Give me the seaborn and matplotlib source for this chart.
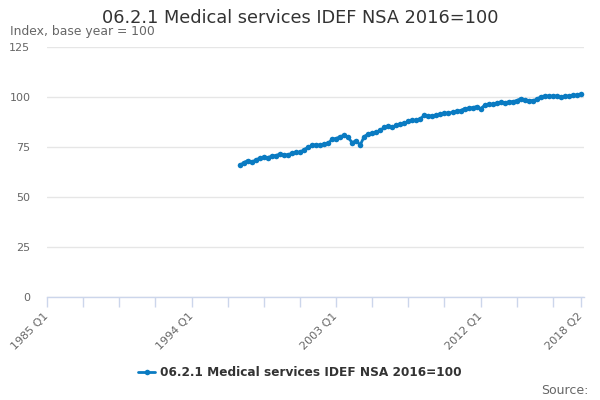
"""
06.2.1 Medical services IDEF NSA 2016=100
Quarterly index, 1985 Q1 - 2018 Q2 (series starts 1997 Q1)
"""

import numpy as np
import pandas as pd
import matplotlib
matplotlib.use("Agg")
import matplotlib.pyplot as plt
import seaborn as sns

sns.set_style("white")
plt.rcParams['font.family'] = ['DejaVu Sans']

LINE_COLOR = '#0a7bc2'
GRID_COLOR = '#e6e6e6'
AXIS_COLOR = '#ccd6eb'
TEXT_GREY = '#666666'

TITLE = '06.2.1 Medical services IDEF NSA 2016=100'
SUBTITLE = 'Index, base year = 100'

# category axis: every quarter 1985 Q1 .. 2018 Q2
first_year, last_year, last_q = 1985, 2018, 2
quarters = [f"{y} Q{q}" for y in range(first_year, last_year + 1) for q in range(1, 5)]
quarters = quarters[:quarters.index(f"{last_year} Q{last_q}") + 1]

start_quarter = '1997 Q1'
index_values = [
    65.8, 67.2, 68.2, 67.5, 68.5, 69.5, 70.0, 69.7,   # 1997-1998
    70.5, 70.7, 71.5, 71.2, 71.0, 72.0, 72.3, 72.3,   # 1999-2000
    73.7, 74.8, 75.8, 76.2, 75.8, 76.5, 76.8, 78.8,   # 2001-2002
    79.2, 80.2, 80.8, 79.8, 77.2, 78.2, 76.0, 80.2,   # 2003-2004
    81.5, 81.8, 82.5, 83.3, 84.8, 85.5, 84.8, 86.0,   # 2005-2006
    86.3, 86.8, 87.8, 88.3, 88.3, 89.2, 90.8, 90.3,   # 2007-2008
    90.7, 90.8, 91.3, 91.8, 92.0, 92.3, 92.8, 93.2,   # 2009-2010
    94.2, 94.3, 94.7, 95.2, 94.2, 95.8, 96.5, 96.3,   # 2011-2012
    96.8, 97.3, 97.2, 97.5, 97.7, 98.2, 99.2, 98.5,   # 2013-2014
    98.2, 98.2, 98.8, 100.2, 100.5, 100.4, 100.4, 100.5,  # 2015-2016
    99.8, 100.3, 100.5, 100.8, 101.0, 101.5,          # 2017-2018 Q2
]

y_ticks = [0, 25, 50, 75, 100, 125]
label_every = 36
tick_every = 9


def main():
    start = quarters.index(start_quarter)
    df = pd.DataFrame({
        'pos': np.arange(start, start + len(index_values)),
        'value': index_values,
    })

    fig = plt.figure(figsize=(6, 4), dpi=100)
    ax = fig.add_axes([47 / 600, 1 - 297 / 400, 537 / 600, 250 / 400])

    sns.lineplot(data=df, x='pos', y='value', ax=ax, color=LINE_COLOR,
                 linewidth=2, marker='o', markersize=4, markeredgewidth=0,
                 label=TITLE, legend=False)

    ax.set_xlim(0, len(quarters) - 1 + 0.75)
    ax.set_ylim(0, 125)
    ax.set_yticks(y_ticks)
    ax.set_yticklabels([str(t) for t in y_ticks], color=TEXT_GREY, fontsize=8)
    ax.yaxis.grid(True, color=GRID_COLOR, linewidth=1)
    ax.set_axisbelow(True)
    ax.tick_params(axis='y', left=False, length=0, pad=12)

    tick_pos = list(range(0, len(quarters), tick_every))
    if tick_pos[-1] != len(quarters) - 1:
        tick_pos.append(len(quarters) - 1)
    labels = [quarters[p] if (p % label_every == 0 or p == len(quarters) - 1) else ''
              for p in tick_pos]
    ax.set_xticks(tick_pos)
    ax.set_xticklabels(labels, rotation=45, ha='right', va='center',
                       rotation_mode='anchor', color=TEXT_GREY, fontsize=8)
    ax.tick_params(axis='x', bottom=True, direction='out', length=7.5,
                   width=1, color=AXIS_COLOR, pad=5)

    for side in ['left', 'right', 'top']:
        ax.spines[side].set_visible(False)
    ax.spines['bottom'].set_color(AXIS_COLOR)
    ax.spines['bottom'].set_linewidth(1)
    ax.set_xlabel('')
    ax.set_ylabel('')

    fig.text(0.5, 1 - 18 / 400, TITLE, ha='center', va='center',
             fontsize=12.75, color='#333333')
    fig.text(10 / 600, 1 - 32 / 400, SUBTITLE, ha='left', va='center',
             fontsize=8.9, color=TEXT_GREY)

    handles, leg_labels = ax.get_legend_handles_labels()
    leg = fig.legend(handles, leg_labels, loc='center',
                     bbox_to_anchor=(0.5, 1 - 373 / 400), frameon=False,
                     handlelength=1.4, handletextpad=0.4,
                     prop={'size': 8.7, 'weight': 'bold'})
    for t in leg.get_texts():
        t.set_color('#333333')

    fig.text(588 / 600, 1 - 391 / 400, 'Source:', ha='right', va='center',
             fontsize=9, color=TEXT_GREY)

    fig.savefig('out.png', dpi=100, facecolor='white')


if __name__ == "__main__":
    main()
